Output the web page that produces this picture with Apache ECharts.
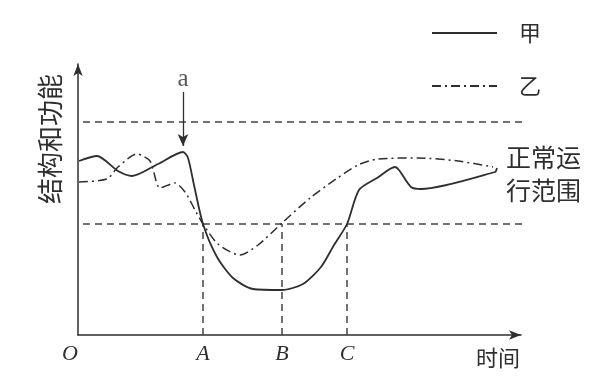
<!DOCTYPE html>
<html>
<head>
<meta charset="utf-8">
<script src="https://cdn.jsdelivr.net/npm/echarts@6/dist/echarts.min.js"></script>
<style>html,body{margin:0;padding:0;background:#fff;}#c{width:600px;height:391px;}</style>
</head>
<body>
<div id="c"></div>
<script>
// Series 甲 (solid) : [time, structure&function]
var jiaData = [[1,174],[19,179],[40,164],[54,159],[80,171],[105,183],[110,177],[116,150],[125,111],[139,78],[155,57],[175,46],[204,45],[225,51],[243,68],[256,90],[269,111],[281,145],[299,157],[317,168],[321,165],[333,148],[343,146],[417,163],[419,167]];
// Series 乙 (dash-dot)
var yiData = [[1,153],[29,156],[40,168],[59,181],[72,174],[82,147],[97,152],[107,143],[117,125],[125,111],[140,91],[162,80],[180,90],[204,112],[232,137],[258,156],[280,170],[300,176],[340,177],[380,174],[415,168]];
// normal operating range bounds
var rangeBounds = [213, 111];
var rangeX = [5, 455];
// tick positions and labels
var tickPos = [0, 125, 204, 269];
var tickNames = ['O', 'A', 'B', 'C'];
// event a
var eventA = {x: 105, yTop: 243, yTip: 189};

var ink = '#2e2e2e';
var cjk = '"Noto Sans CJK SC", sans-serif';
var serif = '"Liberation Serif", "DejaVu Serif", serif';

var chart = echarts.init(document.getElementById('c'));
var series = [
  {name:'甲', type:'line', data:jiaData, symbol:'none', showSymbol:false, smooth:0.25, clip:false,
   lineStyle:{color:ink, width:1.8}, itemStyle:{color:ink}, z:5},
  {name:'乙', type:'line', data:yiData, symbol:'none', showSymbol:false, smooth:0.25, clip:false,
   lineStyle:{color:ink, width:1.5, type:[9,4,2,4]}, itemStyle:{color:ink}, z:5}
];
rangeBounds.forEach(function(v, i){
  series.push({name:'range'+i, type:'line', data:[[rangeX[0], v],[rangeX[1], v]], symbol:'none', clip:false, silent:true,
    lineStyle:{color:'#444', width:1.5, type:[7,5]}});
});
tickPos.slice(1).forEach(function(p, i){
  series.push({name:'v'+i, type:'line', data:[[p,0],[p,rangeBounds[1]]], symbol:'none', clip:false, silent:true,
    lineStyle:{color:'#444', width:1.5, type:[7,5]}});
});
series.push({name:'arrowA', type:'line', data:[], symbol:'none', silent:true,
  markLine:{silent:true, symbol:['none','arrow'], symbolSize:[8,12],
    lineStyle:{color:ink, width:1.3, type:'solid'}, label:{show:false},
    data:[[{coord:[eventA.x, eventA.yTop]},{coord:[eventA.x, eventA.yTip]}]]}});
series.push({name:'labelA', type:'scatter', data:[[eventA.x, eventA.yTop + 13]], symbolSize:0, silent:true,
  label:{show:true, formatter:'a', position:'inside', fontFamily:serif, fontSize:25, color:ink}});

var nameMap = {};
tickPos.forEach(function(p,i){ nameMap[p] = tickNames[i]; });

chart.setOption({
  animation:false,
  backgroundColor:'#fff',
  grid:{left:78, right:79, top:64, bottom:56},
  legend:{data:['甲','乙'], orient:'vertical', left:426, top:17, itemWidth:65, itemHeight:14, itemGap:31,
    itemStyle:{opacity:0},
    textStyle:{fontFamily:cjk, fontSize:22, color:ink, padding:[0,0,0,17]}},
  xAxis:{type:'value', min:0, max:443,
    axisLine:{show:true, symbol:['none','arrow'], symbolSize:[7,12], lineStyle:{color:ink, width:1.5}},
    axisTick:{show:false}, splitLine:{show:false},
    axisLabel:{show:true, customValues:tickPos, margin:8,
      formatter:function(v){ var n = nameMap[v]; return n === 'O' ? '{o|O}' : '{t|' + n + '}'; },
      rich:{o:{fontFamily:serif, fontStyle:'italic', fontSize:22, color:ink, padding:[0,16,0,0]},
            t:{fontFamily:serif, fontStyle:'italic', fontSize:22, color:ink}}}},
  yAxis:{type:'value', min:0, max:271,
    axisLine:{show:true, symbol:['none','arrow'], symbolSize:[7,12], lineStyle:{color:ink, width:1.5}},
    axisTick:{show:false}, splitLine:{show:false}, axisLabel:{show:false}},
  graphic:[
    {type:'text', x:50, y:139, rotation:Math.PI/2,
      style:{text:'结构和功能', font:'26px ' + cjk, fill:ink, align:'center', verticalAlign:'middle'}},
    {type:'text', x:498, y:358,
      style:{text:'时间', font:'22px ' + cjk, fill:ink, align:'center', verticalAlign:'middle'}},
    {type:'text', x:506, y:141,
      style:{text:'正常运\n行范围', font:'25px ' + cjk, lineHeight:33, fill:ink, align:'left', verticalAlign:'top'}}
  ],
  series:series
});
</script>
</body>
</html>
